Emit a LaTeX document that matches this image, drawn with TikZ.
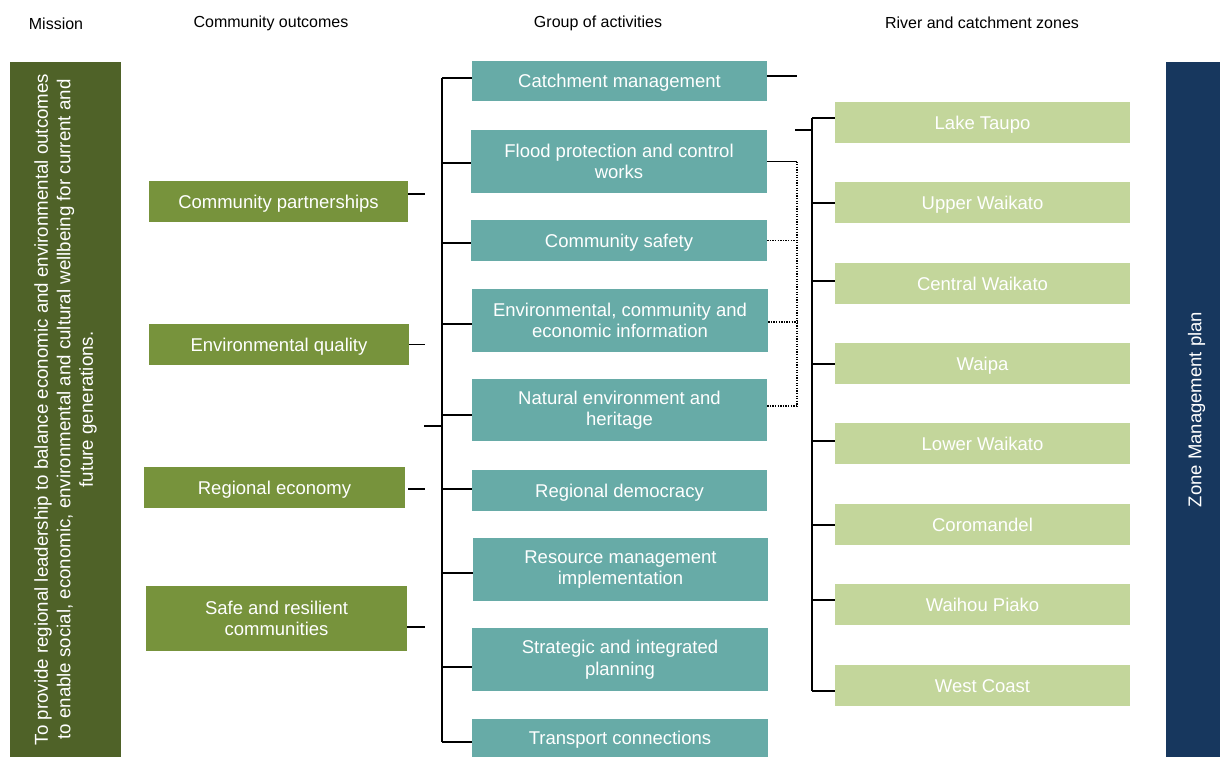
\documentclass[tikz,border=0pt]{standalone}
\usepackage{fontspec}
\setmainfont{Liberation Sans}
\definecolor{missioncol}{HTML}{4F6228}
\definecolor{outcol}{HTML}{77933C}
\definecolor{actcol}{HTML}{67ABA7}
\definecolor{zonecol}{HTML}{C3D69B}
\definecolor{plancol}{HTML}{17375E}
\begin{document}
\begin{tikzpicture}[x=1pt,y=-1pt,
  box/.style={draw=none, inner sep=0pt, align=center, text=white,
    font=\fontsize{18.5}{21.5}\selectfont},
  oneline/.style={text height=17.5pt, text depth=4pt},
  outbox/.style={box, fill=outcol},
  actbox/.style={box, fill=actcol},
  zonebox/.style={box, oneline, fill=zonecol, minimum width=295pt, minimum height=41pt},
  hdr/.style={inner sep=0pt, font=\fontsize{16}{19}\selectfont},
  conn/.style={line width=1.5pt, black},
  dotline/.style={line width=1.1pt, black, dash pattern=on 1.3pt off 1.3pt}]
\useasboundingbox (0,0) rectangle (1220,757);

% headers
\node[hdr] (h1) at (56,23.5) {Mission};
\node[hdr] (h2) at (271,23.5) {Community outcomes};
\node[hdr] (h3) at (598,23.5) {Group of activities};
\node[hdr] (h4) at (982,22.5) {River and catchment zones};

% mission
\node[box, fill=missioncol, rotate=90, minimum width=695pt, minimum height=111pt,
  font=\fontsize{18.7}{22.5}\selectfont] (mission) at (65.5,409.5)
  {To provide regional leadership to balance economic and environmental outcomes\\
   to enable social, economic, environmental and cultural wellbeing for current and\\
   future generations.};

% zone management plan
\node[box, fill=plancol, rotate=90, minimum width=695pt, minimum height=54pt] (plan) at (1193,409.5) {};
\node[box, rotate=90] (plantext) at ([xshift=3.5pt]plan.center) {Zone Management plan};

% community outcomes
\node[outbox, oneline, minimum width=259pt, minimum height=41pt] (cp) at (278.5,201.5) {Community partnerships};
\node[outbox, oneline, minimum width=260pt, minimum height=41pt] (eq) at (279,344.5) {Environmental quality};
\node[outbox, oneline, minimum width=261pt, minimum height=41pt] (re) at (274.5,487.5) {Regional economy};
\node[outbox, minimum width=261pt, minimum height=65pt] (src) at (276.5,618.5) {Safe and resilient\\communities};

% activities
\node[actbox, oneline, minimum width=295pt, minimum height=40pt] (cm) at (619.5,81) {Catchment management};
\node[actbox, minimum width=296pt, minimum height=63pt] (fp) at (619,161.5) {Flood protection and control\\works};
\node[actbox, oneline, minimum width=296pt, minimum height=41pt] (cs) at (619,240.5) {Community safety};
\node[actbox, minimum width=296pt, minimum height=63pt] (eci) at (620,320.5) {Environmental, community and\\economic information};
\node[actbox, minimum width=295pt, minimum height=62pt] (ne) at (619.5,410) {Natural environment and\\heritage};
\node[actbox, oneline, minimum width=295pt, minimum height=41pt] (rd) at (619.5,490.5) {Regional democracy};
\node[actbox, minimum width=295pt, minimum height=63pt] (rmi) at (620.5,569.5) {Resource management\\implementation};
\node[actbox, minimum width=296pt, minimum height=63pt] (sip) at (620,659.5) {Strategic and integrated\\planning};
\node[actbox, oneline, minimum width=296pt, minimum height=38pt] (tc) at (620,738) {Transport connections};

% zones
\node[zonebox] (lt) at (982.5,122.5) {Lake Taupo};
\node[zonebox] (uw) at (982.5,202.5) {Upper Waikato};
\node[zonebox] (cw) at (982.5,283.5) {Central Waikato};
\node[zonebox] (wa) at (982.5,363.5) {Waipa};
\node[zonebox] (lw) at (982.5,443.5) {Lower Waikato};
\node[zonebox] (co) at (982.5,524.5) {Coromandel};
\node[zonebox] (wp) at (982.5,604.5) {Waihou Piako};
\node[zonebox] (wc) at (982.5,685.5) {West Coast};

% outcome stubs
\coordinate (stubx) at (425,0);
\draw[conn] ([yshift=7.5pt]cp.east) -- ([yshift=7.5pt]cp.east -| stubx);
\draw[conn] (eq.east) -- (eq.east -| stubx);
\draw[conn] ([yshift=-1.5pt,xshift=3pt]re.east) -- ([yshift=-1.5pt]re.east -| stubx);
\draw[conn] ([yshift=-8.5pt]src.east) -- ([yshift=-8.5pt]src.east -| stubx);

% activity bus
\coordinate (abT) at (442,78);
\coordinate (abB) at (442,742);
\draw[conn] (abT) -- (abB);
\coordinate (jn) at (424,426);
\draw[conn] (jn) -- (jn -| abT);
\draw[conn] (abT) -- (abT -| cm.west);
\draw[conn] ([yshift=-1.5pt]fp.west -| abT) -- ([yshift=-1.5pt]fp.west);
\draw[conn] ([yshift=-2.5pt]cs.west -| abT) -- ([yshift=-2.5pt]cs.west);
\draw[conn] ([yshift=-3.5pt]eci.west -| abT) -- ([yshift=-3.5pt]eci.west);
\draw[conn] ([yshift=-5pt]ne.west -| abT) -- ([yshift=-5pt]ne.west);
\draw[conn] ([yshift=1.5pt]rd.west -| abT) -- ([yshift=1.5pt]rd.west);
\draw[conn] ([yshift=-3.5pt]rmi.west -| abT) -- ([yshift=-3.5pt]rmi.west);
\draw[conn] ([yshift=-7.5pt]sip.west -| abT) -- ([yshift=-7.5pt]sip.west);
\draw[conn] (abB) -- (abB -| tc.west);

% right-hand stubs of activities
\coordinate (rx) at (797,0);
\draw[conn] ([yshift=5pt]cm.east) -- ([yshift=5pt]cm.east -| rx);
\draw[conn] (fp.east) -- (fp.east -| rx);
\draw[dotline] (fp.east -| rx) -- ([yshift=4pt]ne.east -| rx);
\draw[dotline] (cs.east) -- (cs.east -| rx);
\draw[dotline] ([yshift=-1.5pt]eci.east) -- ([yshift=-1.5pt]eci.east -| rx);
\draw[dotline] ([yshift=4pt]ne.east) -- ([yshift=4pt]ne.east -| rx);

% zone bus
\coordinate (zbT) at (812,118);
\coordinate (zbB) at (812,691);
\draw[conn] (zbT) -- (zbB);
\coordinate (zs) at (795,130);
\draw[conn] (zs) -- (zs -| zbT);
\draw[conn] (zbT) -- (zbT -| lt.west);
\draw[conn] ([yshift=-0.5pt]uw.west -| zbT) -- ([yshift=-0.5pt]uw.west);
\draw[conn] ([yshift=2.5pt]cw.west -| zbT) -- ([yshift=2.5pt]cw.west);
\draw[conn] ([yshift=-0.5pt]wa.west -| zbT) -- ([yshift=-0.5pt]wa.west);
\draw[conn] ([yshift=2.5pt]lw.west -| zbT) -- ([yshift=2.5pt]lw.west);
\draw[conn] ([yshift=-0.5pt]co.west -| zbT) -- ([yshift=-0.5pt]co.west);
\draw[conn] ([yshift=4.5pt]wp.west -| zbT) -- ([yshift=4.5pt]wp.west);
\draw[conn] (zbB) -- (zbB -| wc.west);
\end{tikzpicture}
\end{document}
